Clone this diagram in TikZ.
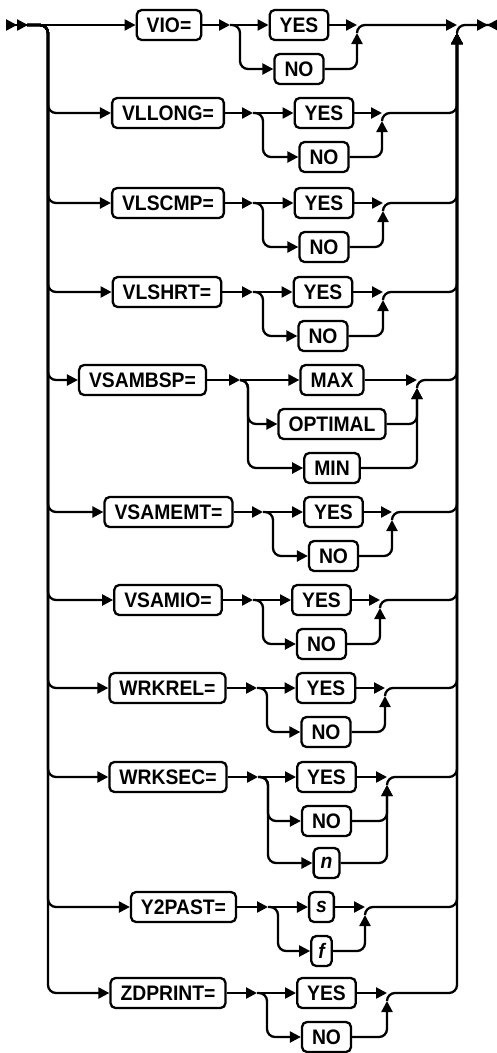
\documentclass[tikz,border=0pt]{standalone}
\usepackage{fontspec}
\setmainfont{Liberation Sans}[FakeStretch=0.92]
\usetikzlibrary{arrows.meta}

\begin{document}
\begin{tikzpicture}[x=1pt, y=-1pt, node distance=44pt, line width=2.3pt]
    % Styles
    \tikzstyle{keyword} = [rectangle, draw, rounded corners=5pt, inner xsep=10pt,
        inner ysep=0pt, minimum height=30pt, font=\fontsize{21}{25}\selectfont\bfseries]
    \tikzstyle{choice} = [keyword]
    \tikzstyle{italicbox} = [keyword, inner xsep=7pt, font=\fontsize{21}{25}\selectfont\bfseries\itshape]
    \tikzstyle{arrow} = [-{Triangle[length=11pt, width=11pt]}]
    \tikzstyle{track} = [arrow, rounded corners=8pt]

    \useasboundingbox (0,0) rectangle (497,1053);

    % === MAIN LINE ===
    \coordinate (origin) at (7,25);
    \coordinate (begin) at (27,25);
    \coordinate (lrail) at (48,25);
    \coordinate (rrail) at (457,25);
    \coordinate (rtip) at (457,33);
    \coordinate (finish) at (498,25);

    % === VIO= (on the main line) ===
    \node [keyword] (vio) at (169,25) {VIO=};
    \node [choice] (vioyes) at (299,25) {YES};
    \node [choice, below of=vioyes] (viono) {NO};
    \coordinate (viomark) at (230,25);
    \coordinate (viojoin) at (357,25);
    \draw [{Triangle[length=11pt, width=11pt, reversed, sep=-1pt] Triangle[length=11pt, width=11pt, reversed, sep=0pt]}-{Triangle[length=11pt, width=11pt]}] (origin) -- (vio);
    \draw [arrow] (vio) -- (viomark);
    \draw [arrow] (viomark) -- (vioyes);
    \draw [track] (viomark) -- ([xshift=10pt]viomark) |- (viono);
    \draw [arrow] (vioyes) -- (viojoin);
    \draw [track] (viono) -| ([yshift=-8pt]viojoin);
    \draw [track] ([yshift=-8pt]viojoin) |- (rrail);
    \draw [rounded corners=8pt, -{Triangle[length=11pt, width=11pt, sep=-1pt] Triangle[length=11pt, width=11pt, reversed, sep=0pt]}] (rtip) |- (finish);

    % === VLLONG= ===
    \node [keyword] (vllong) at (168,113) {VLLONG=};
    \node [choice] (vllongyes) at (324,113) {YES};
    \node [choice, below of=vllongyes] (vllongno) {NO};
    \coordinate (vllongmark) at (253,113);
    \coordinate (vllongjoin) at (382,113);
    \draw [track] (begin) -| (lrail |- vllong) -- (vllong);
    \draw [arrow] (vllong) -- (vllongmark);
    \draw [arrow] (vllongmark) -- (vllongyes);
    \draw [track] (vllongmark) -- ([xshift=10pt]vllongmark) |- (vllongno);
    \draw [arrow] (vllongyes) -- (vllongjoin);
    \draw [track] (vllongno) -| ([yshift=-8pt]vllongjoin);
    \draw [track] ([yshift=-8pt]vllongjoin) |- (rrail |- vllong) -- (rtip);

    % === VLSCMP= ===
    \node [keyword] (vlscmp) at (168,203) {VLSCMP=};
    \node [choice] (vlscmpyes) at (324,203) {YES};
    \node [choice, below of=vlscmpyes] (vlscmpno) {NO};
    \coordinate (vlscmpmark) at (253,203);
    \coordinate (vlscmpjoin) at (383,203);
    \draw [track] (begin) -| (lrail |- vlscmp) -- (vlscmp);
    \draw [arrow] (vlscmp) -- (vlscmpmark);
    \draw [arrow] (vlscmpmark) -- (vlscmpyes);
    \draw [track] (vlscmpmark) -- ([xshift=10pt]vlscmpmark) |- (vlscmpno);
    \draw [arrow] (vlscmpyes) -- (vlscmpjoin);
    \draw [track] (vlscmpno) -| ([yshift=-8pt]vlscmpjoin);
    \draw [track] ([yshift=-8pt]vlscmpjoin) |- (rrail |- vlscmp) -- (rtip);

    % === VLSHRT= ===
    \node [keyword] (vlshrt) at (167,292) {VLSHRT=};
    \node [choice] (vlshrtyes) at (323,292) {YES};
    \node [choice, below of=vlshrtyes] (vlshrtno) {NO};
    \coordinate (vlshrtmark) at (253,292);
    \coordinate (vlshrtjoin) at (383,292);
    \draw [track] (begin) -| (lrail |- vlshrt) -- (vlshrt);
    \draw [arrow] (vlshrt) -- (vlshrtmark);
    \draw [arrow] (vlshrtmark) -- (vlshrtyes);
    \draw [track] (vlshrtmark) -- ([xshift=10pt]vlshrtmark) |- (vlshrtno);
    \draw [arrow] (vlshrtyes) -- (vlshrtjoin);
    \draw [track] (vlshrtno) -| ([yshift=-8pt]vlshrtjoin);
    \draw [track] ([yshift=-8pt]vlshrtjoin) |- (rrail |- vlshrt) -- (rtip);

    % === VSAMBSP= ===
    \node [keyword] (vsambsp) at (142.5,380) {VSAMBSP=};
    \node [choice] (vsambspmax) at (332,380) {MAX};
    \node [choice, below of=vsambspmax] (vsambspopt) {OPTIMAL};
    \node [choice, below of=vsambspopt] (vsambspmin) {MIN};
    \coordinate (vsambspmark) at (240,380);
    \coordinate (vsambspjoin) at (417,380);
    \draw [track] (begin) -| (lrail |- vsambsp) -- (vsambsp);
    \draw [arrow] (vsambsp) -- (vsambspmark);
    \draw [arrow] (vsambspmark) -- (vsambspmax);
    \draw [track] (vsambspmark) -- ([xshift=8pt]vsambspmark) |- (vsambspopt);
    \draw [track] (vsambspmark) -- ([xshift=8pt]vsambspmark) |- (vsambspmin);
    \draw [arrow] (vsambspmax) -- (vsambspjoin);
    \draw [track] (vsambspopt) -| ([yshift=-8pt]vsambspjoin);
    \draw [track] (vsambspmin) -| ([yshift=-8pt]vsambspjoin);
    \draw [track] ([yshift=-8pt]vsambspjoin) |- (rrail |- vsambsp) -- (rtip);

    % === VSAMEMT= ===
    \node [keyword] (vsamemt) at (168.5,512) {VSAMEMT=};
    \node [choice] (vsamemtyes) at (333.5,512) {YES};
    \node [choice, below of=vsamemtyes] (vsamemtno) {NO};
    \coordinate (vsamemtmark) at (263,512);
    \coordinate (vsamemtjoin) at (392,512);
    \draw [track] (begin) -| (lrail |- vsamemt) -- (vsamemt);
    \draw [arrow] (vsamemt) -- (vsamemtmark);
    \draw [arrow] (vsamemtmark) -- (vsamemtyes);
    \draw [track] (vsamemtmark) -- ([xshift=10pt]vsamemtmark) |- (vsamemtno);
    \draw [arrow] (vsamemtyes) -- (vsamemtjoin);
    \draw [track] (vsamemtno) -| ([yshift=-8pt]vsamemtjoin);
    \draw [track] ([yshift=-8pt]vsamemtjoin) |- (rrail |- vsamemt) -- (rtip);

    % === VSAMIO= ===
    \node [keyword] (vsamio) at (168,600) {VSAMIO=};
    \node [choice] (vsamioyes) at (321.5,600) {YES};
    \node [choice, below of=vsamioyes] (vsamiono) {NO};
    \coordinate (vsamiomark) at (253,600);
    \coordinate (vsamiojoin) at (380,600);
    \draw [track] (begin) -| (lrail |- vsamio) -- (vsamio);
    \draw [arrow] (vsamio) -- (vsamiomark);
    \draw [arrow] (vsamiomark) -- (vsamioyes);
    \draw [track] (vsamiomark) -- ([xshift=10pt]vsamiomark) |- (vsamiono);
    \draw [arrow] (vsamioyes) -- (vsamiojoin);
    \draw [track] (vsamiono) -| ([yshift=-8pt]vsamiojoin);
    \draw [track] ([yshift=-8pt]vsamiojoin) |- (rrail |- vsamio) -- (rtip);

    % === WRKREL= ===
    \node [keyword] (wrkrel) at (167.5,688) {WRKREL=};
    \node [choice] (wrkrelyes) at (326,688) {YES};
    \node [choice, below of=wrkrelyes] (wrkrelno) {NO};
    \coordinate (wrkrelmark) at (257,688);
    \coordinate (wrkreljoin) at (385,688);
    \draw [track] (begin) -| (lrail |- wrkrel) -- (wrkrel);
    \draw [arrow] (wrkrel) -- (wrkrelmark);
    \draw [arrow] (wrkrelmark) -- (wrkrelyes);
    \draw [track] (wrkrelmark) -- ([xshift=10pt]wrkrelmark) |- (wrkrelno);
    \draw [arrow] (wrkrelyes) -- (wrkreljoin);
    \draw [track] (wrkrelno) -| ([yshift=-8pt]wrkreljoin);
    \draw [track] ([yshift=-8pt]wrkreljoin) |- (rrail |- wrkrel) -- (rtip);

    % === WRKSEC= ===
    \node [keyword] (wrksec) at (168,777) {WRKSEC=};
    \node [choice] (wrksecyes) at (326.5,777) {YES};
    \node [choice, below of=wrksecyes] (wrksecno) {NO};
    \node [italicbox, below of=wrksecno, node distance=42pt] (wrksecn) {n};
    \coordinate (wrksecmark) at (258,777);
    \coordinate (wrksecjoin) at (387,777);
    \draw [track] (begin) -| (lrail |- wrksec) -- (wrksec);
    \draw [arrow] (wrksec) -- (wrksecmark);
    \draw [arrow] (wrksecmark) -- (wrksecyes);
    \draw [track] (wrksecmark) -- ([xshift=10pt]wrksecmark) |- (wrksecno);
    \draw [track] (wrksecmark) -- ([xshift=10pt]wrksecmark) |- (wrksecn);
    \draw [arrow] (wrksecyes) -- (wrksecjoin);
    \draw [track] (wrksecno) -| ([yshift=-8pt]wrksecjoin);
    \draw [track] (wrksecn) -| ([yshift=-8pt]wrksecjoin);
    \draw [track] ([yshift=-8pt]wrksecjoin) |- (rrail |- wrksec) -- (rtip);

    % === Y2PAST= ===
    \node [keyword] (ypast) at (183.5,907) {Y2PAST=};
    \node [italicbox] (ypasts) at (321.5,907) {s};
    \node [italicbox, below of=ypasts] (ypastf) {f};
    \coordinate (ypastmark) at (268,907);
    \coordinate (ypastjoin) at (365,907);
    \draw [track] (begin) -| (lrail |- ypast) -- (ypast);
    \draw [arrow] (ypast) -- (ypastmark);
    \draw [arrow] (ypastmark) -- (ypasts);
    \draw [track] (ypastmark) -- ([xshift=10pt]ypastmark) |- (ypastf);
    \draw [arrow] (ypasts) -- (ypastjoin);
    \draw [track] (ypastf) -| ([yshift=-8pt]ypastjoin);
    \draw [track] ([yshift=-8pt]ypastjoin) |- (rrail |- ypast) -- (rtip);

    % === ZDPRINT= ===
    \node [keyword] (zdprint) at (168,993) {ZDPRINT=};
    \node [choice] (zdprintyes) at (326.5,993) {YES};
    \node [choice, below of=zdprintyes] (zdprintno) {NO};
    \coordinate (zdprintmark) at (257,993);
    \coordinate (zdprintjoin) at (387,993);
    \draw [track] (begin) -| (lrail |- zdprint) -- (zdprint);
    \draw [arrow] (zdprint) -- (zdprintmark);
    \draw [arrow] (zdprintmark) -- (zdprintyes);
    \draw [track] (zdprintmark) -- ([xshift=10pt]zdprintmark) |- (zdprintno);
    \draw [arrow] (zdprintyes) -- (zdprintjoin);
    \draw [track] (zdprintno) -| ([yshift=-8pt]zdprintjoin);
    \draw [track] ([yshift=-8pt]zdprintjoin) |- (rrail |- zdprint) -- (rtip);
\end{tikzpicture}
\end{document}
